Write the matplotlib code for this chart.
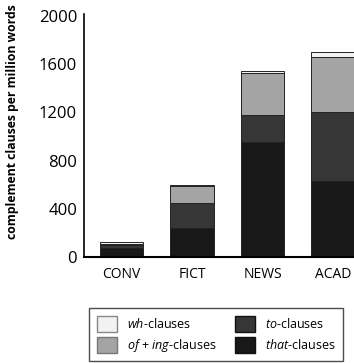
import numpy as np
import matplotlib
matplotlib.use('Agg')
import matplotlib.pyplot as plt
from matplotlib.patches import Patch

plt.rcParams['font.family'] = ['Open Sans', 'DejaVu Sans']
plt.rcParams['mathtext.fontset'] = 'custom'
plt.rcParams['mathtext.it'] = 'Open Sans:italic'
plt.rcParams['mathtext.rm'] = 'Open Sans'

# registers and clause counts (per million words)
registers = ['CONV', 'FICT', 'NEWS', 'ACAD']
that_clauses = [75, 240, 950, 630]
to_clauses = [25, 210, 225, 570]
of_ing_clauses = [5, 135, 350, 460]
wh_clauses = [20, 15, 15, 40]

series = [that_clauses, to_clauses, of_ing_clauses, wh_clauses]
colors = ['#181818', '#363636', '#a4a4a4', '#f2f2f2']

fig = plt.figure(figsize=(3.54, 3.63), dpi=100)
ax = fig.add_axes([84/354, 1 - 257/363, 1 - 84/354, (257 - 14)/363])

x = np.arange(len(registers))
bottom = np.zeros(len(registers))
for vals, col in zip(series, colors):
    ax.bar(x, vals, 0.62, bottom=bottom, color=col, edgecolor='#222222', linewidth=0.7)
    bottom += np.array(vals)

ax.set_xlim(-0.535, 3.3)
ax.set_ylim(0, 2015)
ax.set_yticks([0, 400, 800, 1200, 1600, 2000])
ax.set_xticks(x)
ax.set_xticklabels(registers, fontsize=10)
ax.tick_params(axis='y', length=0, labelsize=12, pad=5)
ax.tick_params(axis='x', length=0, pad=7)

ax.spines['top'].set_color('none')
ax.spines['right'].set_color('none')
ax.spines['left'].set_linewidth(1.2)
ax.spines['bottom'].set_linewidth(1.5)

fig.text(13/354, 1 - 122/363, 'complement clauses per million words', rotation=90,
         ha='center', va='center', fontsize=8.8, fontweight='bold')

handles = [Patch(facecolor=colors[3], edgecolor='#888888'),
           Patch(facecolor=colors[2], edgecolor='#777777'),
           Patch(facecolor=colors[1], edgecolor='#111111'),
           Patch(facecolor=colors[0], edgecolor='#111111')]
labels = [r'$\mathit{wh}$-clauses', r'$\mathit{of}$ + $\mathit{ing}$-clauses',
          r'$\mathit{to}$-clauses', r'$\mathit{that}$-clauses']
leg = fig.legend(handles, labels, ncol=2, loc='upper left',
                 bbox_to_anchor=(83/354, 1 - 302/363), fontsize=9,
                 frameon=True, fancybox=False, edgecolor='#222222',
                 handlelength=1.6, handleheight=1.6, columnspacing=1.5,
                 borderpad=0.6, labelspacing=0.4)
leg.get_frame().set_linewidth(1.0)

fig.savefig('out.png', dpi=100)
